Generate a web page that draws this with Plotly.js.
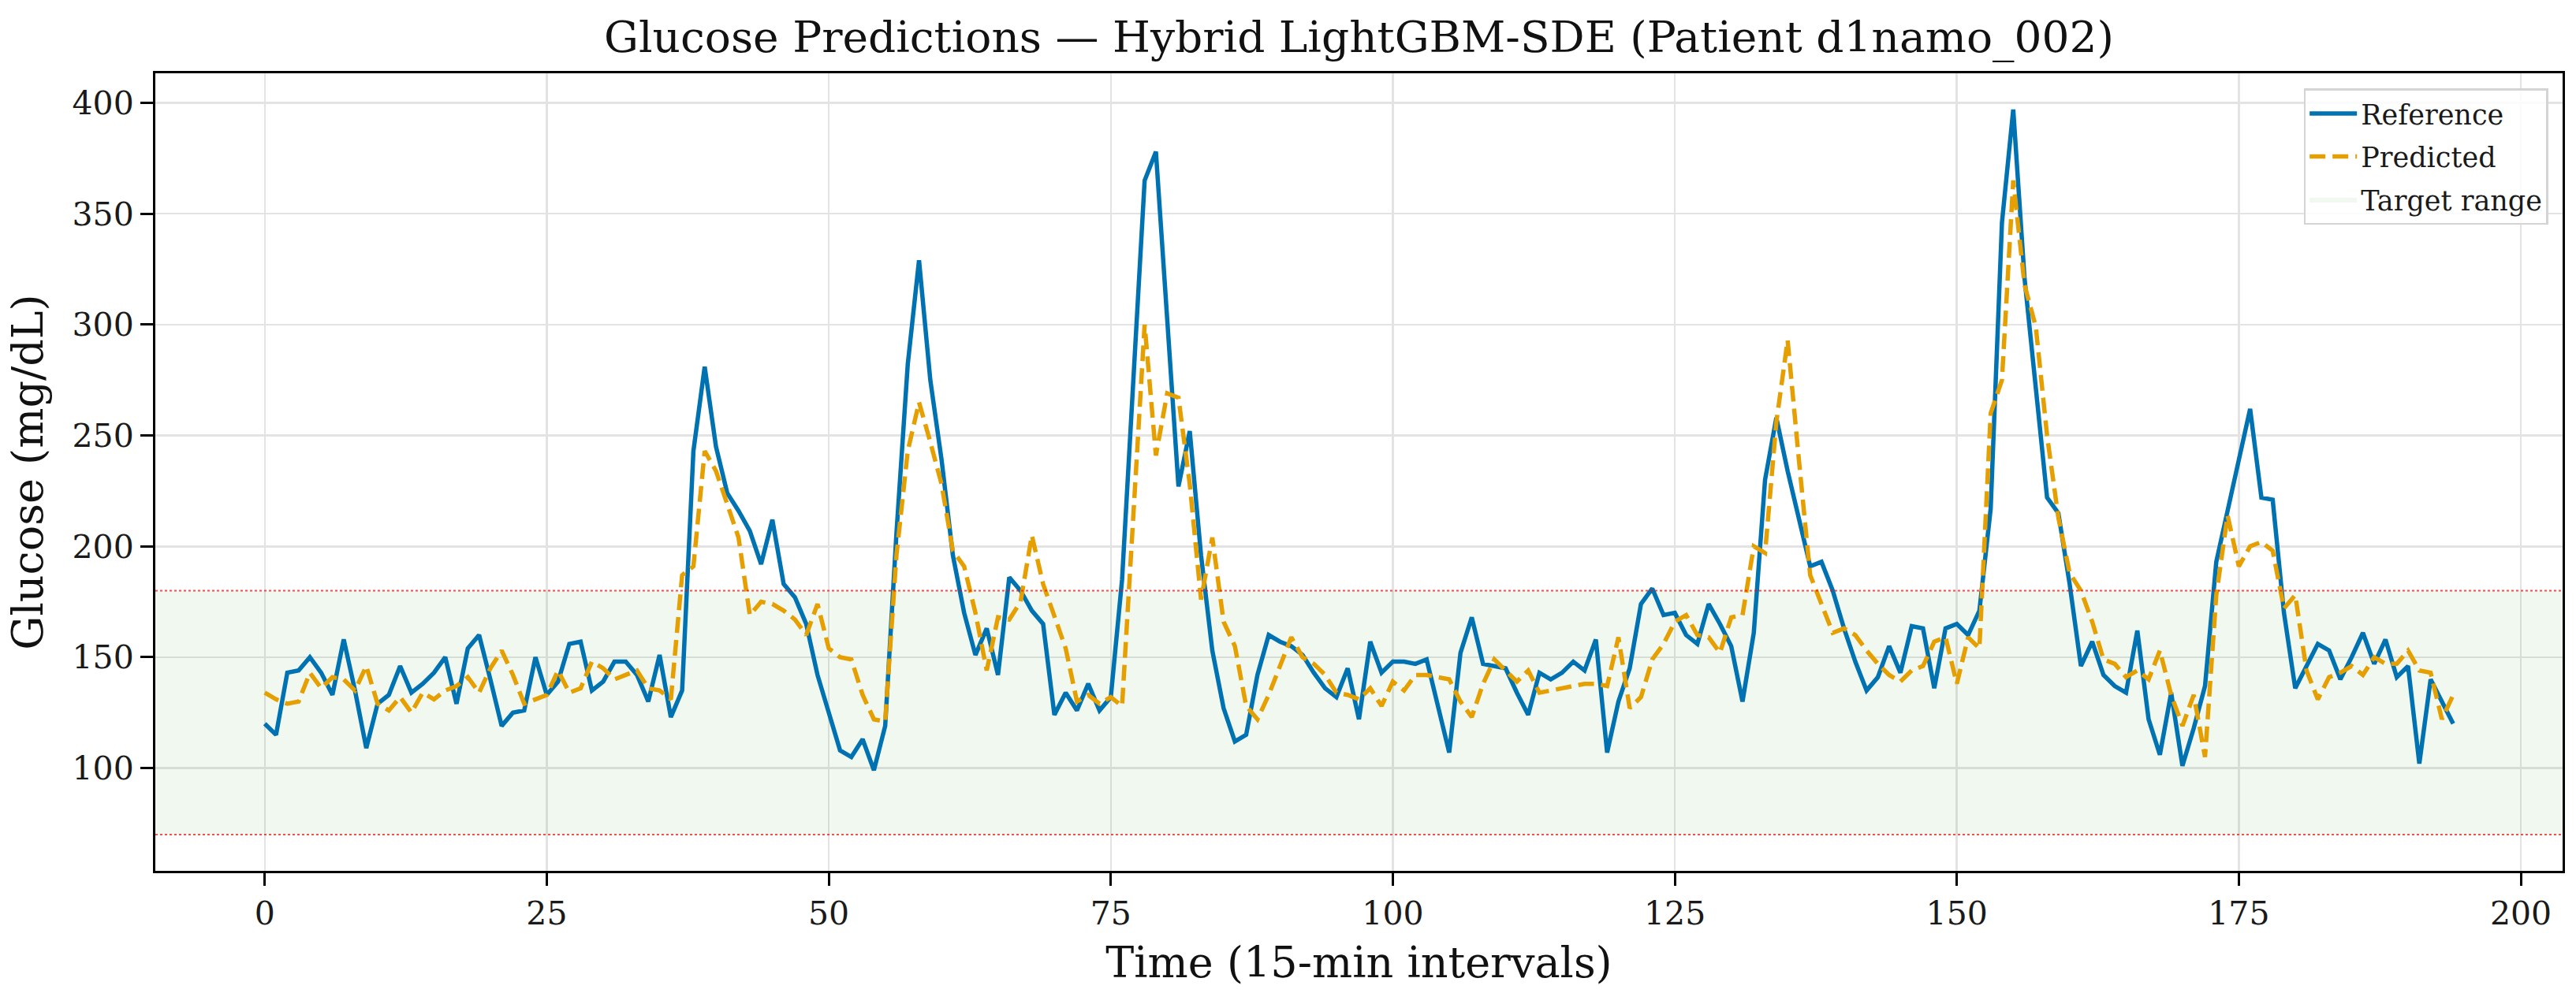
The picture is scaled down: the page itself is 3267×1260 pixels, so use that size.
<!DOCTYPE html>
<html>
<head>
<meta charset="utf-8">
<script src="https://cdn.plot.ly/plotly-3.0.1.min.js"></script>
<style>
	html, body { margin: 0; padding: 0; background: #fff; }
</style>
</head>
<body>
<div id="chart"></div>
<script>
// glucose series, one value per 15-min step
var reference = [
	120, 115, 143, 144, 150, 143, 133, 158, 135, 109,
	129, 133, 146, 134, 138, 143, 150, 129, 154, 160,
	140, 119, 125, 126, 150, 133, 139, 156, 157, 135,
	139, 148, 148, 142, 130, 151, 123, 135, 243, 281,
	245, 224, 216, 207, 192, 212, 183, 177, 165, 142,
	125, 108, 105, 113, 99, 119, 206, 282, 329, 275,
	239, 196, 170, 151, 163, 142, 186, 180, 171, 165,
	124, 134, 126, 138, 126, 132, 185, 275, 365, 378,
	299, 227, 252, 196, 153, 127, 112, 115, 142, 160,
	157, 155, 151, 143, 136, 132, 145, 122, 157, 143,
	148, 148, 147, 149, 128, 107, 152, 168, 147, 146,
	145, 134, 124, 143, 140, 143, 148, 144, 158, 107,
	130, 145, 174, 181, 169, 170, 160, 156, 174, 165,
	155, 130, 161, 230, 258, 234, 213, 191, 193, 180,
	163, 148, 135, 141, 155, 143, 164, 163, 136, 163,
	165, 160, 171, 217, 346, 397, 321, 271, 222, 215,
	183, 146, 157, 142, 137, 134, 162, 122, 106, 134,
	101, 118, 137, 193, 217, 239, 262, 222, 221, 170,
	136, 146, 156, 153, 140, 150, 161, 147, 158, 141,
	146, 102, 140, 130, 120
];
var predicted = [
	134, 131, 129, 130, 143, 136, 141, 140, 135, 146,
	129, 126, 132, 125, 134, 131, 135, 137, 141, 134,
	145, 153, 142, 129, 131, 133, 144, 134, 136, 148,
	145, 140, 142, 144, 136, 135, 131, 187, 191, 243,
	234, 219, 204, 169, 175, 174, 171, 167, 160, 174,
	154, 150, 149, 133, 122, 121, 196, 243, 265, 247,
	228, 198, 191, 170, 144, 168, 167, 175, 205, 183,
	168, 154, 130, 133, 129, 132, 128, 215, 300, 241,
	269, 267, 228, 176, 204, 166, 155, 128, 122, 133,
	146, 159, 150, 147, 142, 134, 133, 131, 136, 128,
	139, 135, 142, 142, 141, 140, 130, 123, 138, 149,
	144, 139, 144, 134, 135, 136, 137, 138, 138, 137,
	159, 127, 132, 149, 156, 166, 169, 160, 159, 152,
	168, 169, 200, 197, 256, 293, 239, 187, 174, 161,
	163, 160, 153, 147, 142, 139, 144, 146, 157, 159,
	138, 159, 154, 260, 275, 365, 318, 299, 250, 213,
	188, 180, 166, 149, 147, 141, 144, 140, 153, 133,
	119, 133, 105, 178, 214, 191, 200, 202, 198, 172,
	178, 144, 131, 141, 143, 146, 142, 150, 147, 147,
	153, 144, 143, 122, 133
];
var targetLow = 70;
var targetHigh = 180;
var xTicks = [0, 25, 50, 75, 100, 125, 150, 175, 200];
var yTicks = [100, 150, 200, 250, 300, 350, 400];

var timeIdx = reference.map(function(_, i) { return i; });
var xRange = [-9.7, 203.7];
var yRange = [53.65, 413.35];

var serif = 'DejaVu Serif, Liberation Serif, serif';

// band drawn as a filled trace so the legend gets a swatch
var traceBand = {
	type: 'scatter',
	mode: 'lines',
	name: 'Target range',
	legendgroup: 'c',
	legendrank: 3,
	x: [xRange[0], xRange[1], xRange[1], xRange[0], xRange[0]],
	y: [targetLow, targetLow, targetHigh, targetHigh, targetLow],
	fill: 'toself',
	fillcolor: 'rgba(0,128,0,0.06)',
	line: { width: 0, color: 'rgba(0,128,0,0.12)' },
	hoverinfo: 'skip'
};
var traceRef = {
	type: 'scatter',
	mode: 'lines',
	name: 'Reference',
	legendgroup: 'a',
	legendrank: 1,
	x: timeIdx,
	y: reference,
	line: { color: '#0072B2', width: 5.5 }
};
var tracePred = {
	type: 'scatter',
	mode: 'lines',
	name: 'Predicted',
	legendgroup: 'b',
	legendrank: 2,
	x: timeIdx,
	y: predicted,
	line: { color: '#E69F00', width: 5.5, dash: '20px,9px' }
};

var axisCommon = {
	showline: true,
	mirror: true,
	linecolor: '#000',
	linewidth: 3,
	ticks: 'outside',
	ticklen: 16,
	tickwidth: 3,
	tickcolor: '#000',
	showgrid: true,
	gridcolor: '#e3e3e3',
	gridwidth: 2.5,
	zeroline: false,
	automargin: false,
	tickfont: { family: serif, size: 41, color: '#1a1a1a' }
};

var layout = {
	width: 3267,
	height: 1260,
	margin: { l: 197, r: 17, t: 93, b: 155 },
	paper_bgcolor: '#fff',
	plot_bgcolor: '#fff',
	title: {
		text: 'Glucose Predictions — Hybrid LightGBM-SDE (Patient d1namo_002)',
		font: { family: serif, size: 55, color: '#111' },
		x: 0.5,
		xref: 'paper',
		xanchor: 'center',
		y: 1 - 47 / 1260,
		yref: 'container',
		yanchor: 'middle'
	},
	xaxis: Object.assign({}, axisCommon, {
		range: xRange,
		tickmode: 'array',
		tickvals: xTicks,
		ticktext: xTicks.map(String),
		title: { text: 'Time (15-min intervals)', font: { family: serif, size: 54, color: '#111' }, standoff: 20 }
	}),
	yaxis: Object.assign({}, axisCommon, {
		range: yRange,
		tickmode: 'array',
		tickvals: yTicks,
		ticktext: yTicks.map(String),
		title: { text: 'Glucose (mg/dL)', font: { family: serif, size: 54, color: '#111' }, standoff: 20 }
	}),
	legend: {
		x: 0.994,
		xanchor: 'right',
		y: 0.981,
		yanchor: 'top',
		bgcolor: 'rgba(255,255,255,0.85)',
		bordercolor: '#d4d4d4',
		borderwidth: 2.5,
		font: { family: serif, size: 35, color: '#1a1a1a' },
		tracegroupgap: 6,
		itemwidth: 60
	},
	shapes: [{
		type: 'line',
		xref: 'paper',
		x0: 0,
		x1: 1,
		yref: 'y',
		y0: targetHigh,
		y1: targetHigh,
		line: { color: 'rgba(255,0,0,0.7)', width: 2, dash: 'dot' }
	}, {
		type: 'line',
		xref: 'paper',
		x0: 0,
		x1: 1,
		yref: 'y',
		y0: targetLow,
		y1: targetLow,
		line: { color: 'rgba(255,0,0,0.7)', width: 2, dash: 'dot' }
	}],
	showlegend: true
};

Plotly.newPlot('chart', [traceBand, traceRef, tracePred], layout, { displayModeBar: false, staticPlot: true });
</script>
</body>
</html>
